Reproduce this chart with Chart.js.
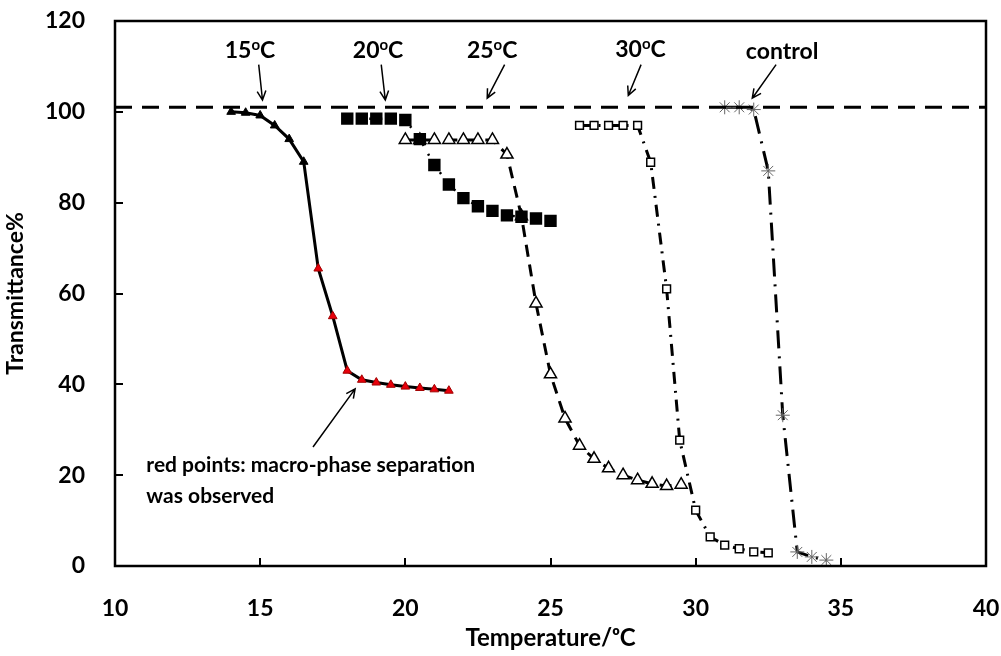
<!DOCTYPE html>
<html>
<head>
<meta charset="utf-8">
<script src="https://cdn.jsdelivr.net/npm/chart.js@4.4.0/dist/chart.umd.min.js"></script>
<style>
html, body { margin: 0; padding: 0; background: #fff; }
</style>
</head>
<body>
<canvas id="transChart" width="1001" height="656"></canvas>
<script>
// data
const temp15 = [14, 14.5, 15, 15.5, 16, 16.5, 17, 17.5, 18, 18.5, 19, 19.5, 20, 20.5, 21, 21.5];
const trans15 = [100, 99.8, 99.2, 97, 94, 89, 65.5, 55, 43, 41, 40.4, 39.9, 39.5, 39.2, 38.9, 38.6];
const separated15 = [0, 0, 0, 0, 0, 0, 1, 1, 1, 1, 1, 1, 1, 1, 1, 1];

const temp20 = [18, 18.5, 19, 19.5, 20, 20.5, 21, 21.5, 22, 22.5, 23, 23.5, 24, 24.5, 25];
const trans20 = [98.5, 98.5, 98.5, 98.5, 98.2, 94, 88.3, 84, 81, 79.2, 78.2, 77.2, 76.9, 76.5, 76];

const temp25 = [20, 20.5, 21, 21.5, 22, 22.5, 23, 23.5, 24, 24.5, 25, 25.5, 26, 26.5, 27, 27.5, 28, 28.5, 29, 29.5];
const trans25 = [93.8, 93.8, 93.8, 93.8, 93.8, 93.8, 93.8, 90.6, 77, 57.8, 42.2, 32.5, 26.5, 23.6, 21.5, 20, 18.9, 18.1, 17.6, 17.9];

const temp30 = [26, 26.5, 27, 27.5, 28, 28.45, 29, 29.45, 30, 30.5, 31, 31.5, 32, 32.5];
const trans30 = [97, 97, 97, 97, 97, 88.9, 61, 27.7, 12.3, 6.4, 4.6, 3.8, 3.1, 2.9];

const tempCtrl = [31, 31.5, 32, 32.5, 33, 33.5, 34, 34.5];
const transCtrl = [101, 101, 100.5, 87, 33.2, 3.1, 2, 1.3];

const refLineX = [10, 40];
const refLineY = [101, 101];

const xTicks = [10, 15, 20, 25, 30, 35, 40];
const yTicks = [0, 20, 40, 60, 80, 100, 120];

// annotation labels (data coordinates): [text, x, y, arrowFromX, arrowFromY, arrowToX, arrowToY]
const tempLabels = [
    ['15', 14.65, 113.4, 14.95, 110.4, 15.08, 102.6],
    ['20', 19.06, 113.4, 19.17, 110.4, 19.31, 102.6],
    ['25', 22.99, 113.4, 23.42, 110.4, 22.82, 103.0],
    ['30', 28.1, 113.6, 28.12, 110.4, 27.68, 103.6]
];
const controlLabel = ['control', 32.98, 113.2, 32.77, 110.4, 31.95, 103.0];
const noteLines = ['red points: macro-phase separation', 'was observed'];
const noteX = 11.08;
const noteY = [22.2, 15.4];
const noteArrow = [16.82, 26.2, 18.27, 39.0];

const FONT = 'Lato, "Open Sans", sans-serif';

function pts(xs, ys) {
    return xs.map(function (x, i) { return { x: x, y: ys[i] }; });
}

function arrow(ctx, x1, y1, x2, y2) {
    const a = Math.atan2(y2 - y1, x2 - x1);
    const h = 10;
    ctx.beginPath();
    ctx.moveTo(x1, y1);
    ctx.lineTo(x2, y2);
    ctx.moveTo(x2 - h * Math.cos(a - 0.45), y2 - h * Math.sin(a - 0.45));
    ctx.lineTo(x2, y2);
    ctx.lineTo(x2 - h * Math.cos(a + 0.45), y2 - h * Math.sin(a + 0.45));
    ctx.stroke();
}

const annotations = {
    id: 'annotations',
    afterDraw: function (chart) {
        const ctx = chart.ctx;
        const xs = chart.scales.x;
        const ys = chart.scales.y;
        const area = chart.chartArea;
        ctx.save();
        ctx.strokeStyle = '#000';
        ctx.fillStyle = '#000';

        // inward ticks
        ctx.lineWidth = 2;
        xTicks.forEach(function (v) {
            const px = Math.round(xs.getPixelForValue(v));
            ctx.beginPath();
            ctx.moveTo(px, area.bottom);
            ctx.lineTo(px, area.bottom - 8);
            ctx.stroke();
        });
        yTicks.forEach(function (v) {
            const py = Math.round(ys.getPixelForValue(v));
            ctx.beginPath();
            ctx.moveTo(area.left, py);
            ctx.lineTo(area.left + 8, py);
            ctx.stroke();
        });

        ctx.lineWidth = 1.5;
        ctx.textBaseline = 'middle';
        tempLabels.forEach(function (l) {
            const big = 'bold 23px ' + FONT;
            const small = 'bold 15px ' + FONT;
            ctx.font = big;
            const w1 = ctx.measureText(l[0]).width;
            const w3 = ctx.measureText('C').width;
            ctx.font = small;
            const w2 = ctx.measureText('o').width;
            const cx = xs.getPixelForValue(l[1]);
            const cy = ys.getPixelForValue(l[2]);
            const x0 = cx - (w1 + w2 + w3) / 2;
            ctx.textAlign = 'left';
            ctx.font = big;
            ctx.fillText(l[0], x0, cy);
            ctx.font = small;
            ctx.fillText('o', x0 + w1, cy - 6);
            ctx.font = big;
            ctx.fillText('C', x0 + w1 + w2, cy);
            arrow(ctx, xs.getPixelForValue(l[3]), ys.getPixelForValue(l[4]),
                xs.getPixelForValue(l[5]), ys.getPixelForValue(l[6]));
        });

        ctx.font = 'bold 23px ' + FONT;
        ctx.textAlign = 'center';
        ctx.fillText(controlLabel[0], xs.getPixelForValue(controlLabel[1]), ys.getPixelForValue(controlLabel[2]));
        arrow(ctx, xs.getPixelForValue(controlLabel[3]), ys.getPixelForValue(controlLabel[4]),
            xs.getPixelForValue(controlLabel[5]), ys.getPixelForValue(controlLabel[6]));

        ctx.font = 'bold 21px ' + FONT;
        ctx.textAlign = 'left';
        noteLines.forEach(function (t, i) {
            ctx.fillText(t, xs.getPixelForValue(noteX), ys.getPixelForValue(noteY[i]));
        });
        arrow(ctx, xs.getPixelForValue(noteArrow[0]), ys.getPixelForValue(noteArrow[1]),
            xs.getPixelForValue(noteArrow[2]), ys.getPixelForValue(noteArrow[3]));

        // frame
        ctx.lineWidth = 2.5;
        ctx.strokeRect(area.left, area.top, area.right - area.left, area.bottom - area.top);
        ctx.restore();
    }
};

document.addEventListener('DOMContentLoaded', function () {
    const ctx = document.getElementById('transChart').getContext('2d');
    new Chart(ctx, {
        type: 'scatter',
        data: {
            datasets: [
                {
                    label: 'reference',
                    data: pts(refLineX, refLineY),
                    showLine: true,
                    borderColor: '#000',
                    borderWidth: 3,
                    borderDash: [17, 10],
                    pointRadius: 0
                },
                {
                    label: '15oC',
                    data: pts(temp15, trans15),
                    showLine: true,
                    borderColor: '#000',
                    borderWidth: 3,
                    pointStyle: 'triangle',
                    pointRadius: 5,
                    pointBackgroundColor: separated15.map(function (s) { return s ? '#e8000b' : '#000'; }),
                    pointBorderColor: separated15.map(function (s) { return s ? '#a00000' : '#000'; }),
                    pointBorderWidth: 1
                },
                {
                    label: '20oC',
                    data: pts(temp20, trans20),
                    showLine: true,
                    borderColor: '#000',
                    borderWidth: 2.5,
                    borderDash: [2, 9],
                    pointStyle: 'rect',
                    pointRadius: 7,
                    pointBackgroundColor: '#000',
                    pointBorderColor: '#000'
                },
                {
                    label: '25oC',
                    data: pts(temp25, trans25),
                    showLine: true,
                    borderColor: '#000',
                    borderWidth: 3,
                    borderDash: [12, 8],
                    pointStyle: 'triangle',
                    pointRadius: 7,
                    pointBackgroundColor: '#fff',
                    pointBorderColor: '#000',
                    pointBorderWidth: 1.5
                },
                {
                    label: '30oC',
                    data: pts(temp30, trans30),
                    showLine: true,
                    borderColor: '#000',
                    borderWidth: 3,
                    borderDash: [12, 7, 2, 7],
                    pointStyle: 'rect',
                    pointRadius: 5.5,
                    pointBackgroundColor: '#fff',
                    pointBorderColor: '#000',
                    pointBorderWidth: 1.5
                },
                {
                    label: 'control',
                    data: pts(tempCtrl, transCtrl),
                    showLine: true,
                    borderColor: '#000',
                    borderWidth: 3,
                    borderDash: [18, 8, 2, 8],
                    pointStyle: 'star',
                    pointRadius: 7,
                    pointBackgroundColor: '#666',
                    pointBorderColor: '#666',
                    pointBorderWidth: 1
                }
            ]
        },
        options: {
            responsive: false,
            animation: false,
            devicePixelRatio: 1,
            layout: { padding: { top: 21, right: 15, left: 0, bottom: 0 } },
            scales: {
                x: {
                    type: 'linear',
                    min: 10,
                    max: 40,
                    afterFit: function (s) {
                        s.height = 90;
                        s.paddingLeft = 0;
                        s.paddingRight = 0;
                    },
                    afterBuildTicks: function (s) { s.ticks = xTicks.map(function (v) { return { value: v }; }); },
                    grid: { display: false, drawTicks: false },
                    border: { display: false },
                    ticks: { color: '#000', padding: 29, font: { family: FONT, size: 23, weight: 'bold' } },
                    title: {
                        display: true,
                        text: 'Temperature/ᵒC',
                        color: '#000',
                        padding: { top: 0, bottom: 3 },
                        font: { family: FONT, size: 24, weight: 'bold' }
                    }
                },
                y: {
                    min: 0,
                    max: 120,
                    afterFit: function (s) {
                        s.width = 115;
                        s.paddingTop = 0;
                        s.paddingBottom = 0;
                    },
                    afterBuildTicks: function (s) { s.ticks = yTicks.map(function (v) { return { value: v }; }); },
                    grid: { display: false, drawTicks: false },
                    border: { display: false },
                    ticks: { color: '#000', padding: 30, font: { family: FONT, size: 23, weight: 'bold' } },
                    title: {
                        display: true,
                        text: 'Transmittance%',
                        color: '#000',
                        padding: { top: 2, bottom: 4 },
                        font: { family: FONT, size: 23, weight: 'bold' }
                    }
                }
            },
            plugins: {
                legend: { display: false },
                tooltip: { enabled: false }
            }
        },
        plugins: [annotations]
    });
});
</script>
</body>
</html>
